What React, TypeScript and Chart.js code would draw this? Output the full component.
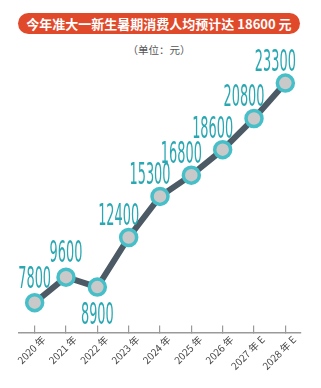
import React, { useEffect, useRef } from "react";
import { Chart, registerables } from "chart.js";

Chart.register(...registerables);

const categories = ["2020 年", "2021 年", "2022 年", "2023 年", "2024 年", "2025 年", "2026 年", "2027 年 E", "2028 年 E"];
const spending = [7800, 9600, 8900, 12400, 15300, 16800, 18600, 20800, 23300];
const titleText = "今年准大一新生暑期消费人均预计达 18600 元";
const unitText = "（单位：元）";

const LABEL_COLOR = "#2aa8b2";

const valueLabels = {
  id: "valueLabels",
  afterDatasetsDraw(chart: any) {
    const meta = chart.getDatasetMeta(0);
    const ctx = chart.ctx;
    ctx.save();
    ctx.font = '30px "Liberation Sans Narrow", "DejaVu Sans Condensed", sans-serif';
    ctx.fillStyle = LABEL_COLOR;
    ctx.textAlign = "center";
    ctx.textBaseline = "alphabetic";
    const w0 = ctx.measureText("0").width;
    const sx = 8.2 / w0;
    meta.data.forEach((pt: any, i: number) => {
      const text = String(spending[i]);
      let cx = pt.x;
      let base = pt.y - 15;
      if (i === 2) {
        base = pt.y + 37;
      } else if (i >= 2) {
        cx = pt.x - 10;
        base = pt.y - 12;
      }
      ctx.save();
      ctx.translate(cx, base);
      ctx.scale(sx, 1);
      ctx.fillText(text, 0, 0);
      ctx.restore();
    });
    ctx.restore();
  },
};

export default function App() {
  const ref = useRef<HTMLCanvasElement | null>(null);
  useEffect(() => {
    if (!ref.current) return;
    const chart = new Chart(ref.current, {
      type: "line",
      data: {
        labels: categories,
        datasets: [
          {
            data: spending,
            borderColor: "#4b5a65",
            borderWidth: 6,
            pointRadius: 8,
            pointBorderWidth: 3.5,
            pointBackgroundColor: "#c9c9c9",
            pointBorderColor: "#47bfc9",
            tension: 0,
          },
        ],
      },
      options: {
        responsive: true,
        maintainAspectRatio: false,
        animation: false,
        layout: { padding: { left: 19, right: 20, top: 59, bottom: 8 } },
        plugins: { legend: { display: false }, tooltip: { enabled: false } },
        scales: {
          y: { display: false, min: 5700, max: 25000 },
          x: {
            offset: true,
            grid: {
              display: true,
              drawOnChartArea: false,
              drawTicks: true,
              tickLength: -7,
              color: "#9a9a9a",
              lineWidth: 1.2,
            },
            border: { display: true, color: "#9a9a9a", width: 1.5 },
            ticks: {
              autoSkip: false,
              maxRotation: 45,
              minRotation: 45,
              labelOffset: 9,
              padding: 8,
              color: "#444",
              font: { size: 10, family: '"Noto Sans CJK SC", "DejaVu Sans", sans-serif' },
            },
          },
        },
      },
      plugins: [valueLabels],
    });
    return () => chart.destroy();
  }, []);

  return (
    <div style={{ position: "fixed", left: 0, top: 0, width: 321, height: 388, background: "#fff", overflow: "hidden" }}>
      <div
        style={{
          position: "absolute",
          left: 18,
          top: 13,
          width: 282,
          height: 21,
          borderRadius: 11,
          background: "#e04a2b",
          color: "#fff",
          fontFamily: '"Noto Sans CJK SC", sans-serif',
          fontWeight: 700,
          fontSize: 13,
          lineHeight: "21px",
          textAlign: "center",
          whiteSpace: "nowrap",
        }}
      >
        {titleText}
      </div>
      <div
        style={{
          position: "absolute",
          left: 0,
          top: 43,
          width: 318,
          textAlign: "center",
          fontFamily: '"Noto Sans CJK SC", sans-serif',
          fontSize: 10.5,
          color: "#555",
          lineHeight: "14px",
        }}
      >
        {unitText}
      </div>
      <div style={{ position: "absolute", left: 0, top: 0, width: 321, height: 388 }}>
        <canvas ref={ref} />
      </div>
    </div>
  );
}
